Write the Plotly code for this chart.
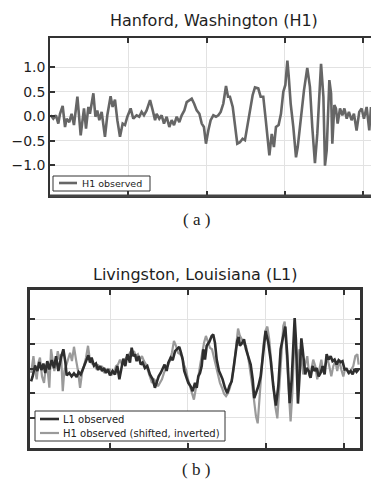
import plotly.graph_objects as go

# ---------------- data (time in s, strain in 1e-21) ----------------
H1_T = [0.2504, 0.2521, 0.2538, 0.2553, 0.2564, 0.2581, 0.2596, 0.2606, 0.2623, 0.2638,
        0.2653, 0.2675, 0.2696, 0.2709, 0.2717, 0.2730, 0.2745, 0.2755, 0.2777, 0.2790,
        0.2802, 0.2815, 0.2830, 0.2851, 0.2866, 0.2887, 0.2900, 0.2915, 0.2930, 0.2947,
        0.2964, 0.2979, 0.2994, 0.3015, 0.3032, 0.3053, 0.3070, 0.3085, 0.3100, 0.3117,
        0.3139, 0.3156, 0.3171, 0.3181, 0.3198, 0.3213, 0.3228, 0.3245, 0.3262, 0.3277,
        0.3292, 0.3309, 0.3326, 0.3341, 0.3358, 0.3373, 0.3390, 0.3405, 0.3420, 0.3437,
        0.3454, 0.3469, 0.3483, 0.3496, 0.3511, 0.3526, 0.3543, 0.3560, 0.3575, 0.3590,
        0.3607, 0.3624, 0.3637, 0.3649, 0.3667, 0.3681, 0.3696, 0.3713, 0.3730, 0.3745,
        0.3760, 0.3777, 0.3794, 0.3809, 0.3830, 0.3845, 0.3862, 0.3877, 0.3890, 0.3901,
        0.3916, 0.3930, 0.3943, 0.3960, 0.3975, 0.3990, 0.4003, 0.4016, 0.4024, 0.4037,
        0.4054, 0.4071, 0.4082, 0.4101, 0.4122, 0.4143, 0.4160, 0.4175, 0.4192, 0.4207,
        0.4220, 0.4231, 0.4246, 0.4256, 0.4267, 0.4278, 0.4284, 0.4295, 0.4303, 0.4316,
        0.4326, 0.4337, 0.4352, 0.4367, 0.4380, 0.4395, 0.4409, 0.4426, 0.4441, 0.4458,
        0.4475, 0.4490, 0.4505, 0.4522, 0.4539, 0.4550]
H1_V = [0.02, -0.05, 0.02, -0.15, 0.05, 0.21, -0.22, -0.05, -0.12, 0.05,
        -0.18, 0.40, -0.39, 0.05, 0.16, -0.25, 0.19, 0.05, 0.47, -0.01,
        0.12, -0.08, 0.09, -0.42, 0.02, 0.41, 0.19, 0.34, -0.08, -0.42,
        -0.15, -0.18, -0.01, 0.16, -0.05, 0.02, -0.01, 0.09, 0.02, 0.12,
        0.33, 0.12, -0.08, 0.05, -0.05, 0.02, -0.15, -0.01, -0.22, -0.08,
        -0.18, -0.01, -0.12, 0.02, 0.12, 0.29, 0.33, 0.36, 0.26, 0.12,
        0.05, -0.15, -0.22, -0.56, -0.29, -0.08, 0.02, -0.01, 0.02, 0.09,
        0.26, 0.62, 0.40, 0.40, 0.19, -0.22, -0.56, -0.53, -0.46, -0.49,
        -0.22, 0.12, 0.43, 0.59, 0.57, 0.40, 0.40, -0.05, -0.49, -0.80,
        -0.36, -0.63, -0.22, -0.18, 0.05, 0.50, 0.64, 1.14, 0.84, 0.26,
        -0.22, -0.84, -0.63, -0.08, 0.53, 0.99, 0.60, -0.22, -0.96, -0.36,
        0.47, 1.07, 0.40, -1.01, -0.70, 0.33, 0.74, 0.47, -0.56, 0.23,
        0.16, -0.15, 0.16, 0.02, 0.16, -0.05, 0.09, -0.08, 0.05, -0.29,
        0.09, 0.16, -0.05, 0.19, -0.29, 0.19]

L1_T = [0.2494, 0.2504, 0.2519, 0.2534, 0.2547, 0.2560, 0.2573, 0.2585, 0.2598, 0.2611,
        0.2626, 0.2641, 0.2654, 0.2669, 0.2686, 0.2701, 0.2714, 0.2722, 0.2739, 0.2754,
        0.2769, 0.2786, 0.2799, 0.2812, 0.2829, 0.2846, 0.2861, 0.2872, 0.2882, 0.2897,
        0.2910, 0.2923, 0.2936, 0.2949, 0.2962, 0.2974, 0.2987, 0.3000, 0.3017, 0.3032,
        0.3047, 0.3060, 0.3073, 0.3085, 0.3098, 0.3111, 0.3128, 0.3139, 0.3150, 0.3160,
        0.3171, 0.3184, 0.3197, 0.3209, 0.3224, 0.3239, 0.3256, 0.3274, 0.3288, 0.3299,
        0.3312, 0.3325, 0.3338, 0.3350, 0.3363, 0.3374, 0.3389, 0.3402, 0.3417, 0.3432,
        0.3444, 0.3455, 0.3466, 0.3476, 0.3487, 0.3502, 0.3517, 0.3530, 0.3545, 0.3556,
        0.3566, 0.3577, 0.3588, 0.3598, 0.3609, 0.3620, 0.3637, 0.3652, 0.3662, 0.3673,
        0.3684, 0.3699, 0.3709, 0.3722, 0.3737, 0.3752, 0.3765, 0.3780, 0.3791, 0.3803,
        0.3816, 0.3825, 0.3833, 0.3846, 0.3859, 0.3872, 0.3887, 0.3902, 0.3915, 0.3925,
        0.3936, 0.3951, 0.3966, 0.3983, 0.3998, 0.4015, 0.4030, 0.4047, 0.4064, 0.4079,
        0.4094, 0.4111, 0.4124, 0.4137, 0.4152, 0.4165, 0.4175, 0.4184, 0.4192, 0.4205,
        0.4214, 0.4227, 0.4235, 0.4244, 0.4252, 0.4261, 0.4274, 0.4286, 0.4299, 0.4312,
        0.4325, 0.4338, 0.4350, 0.4363, 0.4376, 0.4389, 0.4402, 0.4415, 0.4427, 0.4440,
        0.4453, 0.4466, 0.4479, 0.4491, 0.4504, 0.4517, 0.4530, 0.4543, 0.4556, 0.4568,
        0.4581, 0.4594]
L1_V = [-0.26, -0.16, 0.06, -0.05, 0.13, -0.03, 0.10, -0.09, 0.15, -0.02,
        0.17, 0.01, 0.25, -0.05, 0.22, 0.39, 0.12, -0.14, -0.09, -0.16,
        -0.10, -0.17, -0.07, -0.12, 0.01, 0.15, 0.27, 0.12, 0.22, 0.06,
        0.10, -0.03, 0.05, -0.05, 0.01, -0.09, -0.02, -0.14, -0.05, -0.12,
        0.05, -0.22, 0.01, 0.20, 0.05, 0.29, 0.12, 0.42, 0.25, 0.29,
        0.15, 0.25, 0.08, 0.12, 0.01, 0.05, -0.12, -0.22, -0.39, -0.29,
        -0.16, -0.09, -0.01, 0.08, -0.05, 0.12, 0.22, 0.17, 0.35, 0.39,
        0.44, 0.32, 0.18, -0.05, -0.16, -0.29, -0.36, -0.46, -0.29, -0.39,
        -0.16, -0.09, 0.05, 0.39, 0.18, 0.46, 0.54, 0.66, 0.69, 0.52,
        0.18, -0.05, -0.12, -0.22, -0.39, -0.50, -0.36, -0.26, -0.02, 0.25,
        0.56, 0.64, 0.46, 0.51, 0.59, 0.39, 0.25, 0.08, -0.22, -0.60,
        -0.50, -0.36, -0.16, 0.32, 0.76, 0.52, 0.18, -0.36, -0.75, -0.36,
        0.39, 0.66, 0.85, 0.25, -0.70, -0.22, 0.39, 1.02, 0.59, -0.71,
        -0.22, 0.61, 0.39, 0.05, -0.12, 0.01, -0.05, -0.19, 0.05, -0.05,
        0.01, -0.16, -0.09, 0.05, -0.12, 0.29, 0.18, 0.25, 0.15, 0.18,
        0.08, 0.17, 0.13, 0.15, -0.02, -0.01, -0.09, -0.05, -0.12, -0.01,
        -0.07, -0.02]

H1S_T = [0.2494, 0.2509, 0.2519, 0.2530, 0.2541, 0.2551, 0.2564, 0.2577, 0.2590, 0.2600,
         0.2611, 0.2622, 0.2632, 0.2643, 0.2654, 0.2665, 0.2675, 0.2686, 0.2697, 0.2707,
         0.2718, 0.2731, 0.2744, 0.2756, 0.2769, 0.2782, 0.2795, 0.2808, 0.2821, 0.2833,
         0.2846, 0.2859, 0.2872, 0.2885, 0.2897, 0.2910, 0.2923, 0.2936, 0.2949, 0.2962,
         0.2974, 0.2987, 0.3000, 0.3013, 0.3026, 0.3038, 0.3051, 0.3064, 0.3077, 0.3090,
         0.3103, 0.3118, 0.3128, 0.3141, 0.3154, 0.3167, 0.3179, 0.3192, 0.3205, 0.3218,
         0.3231, 0.3244, 0.3256, 0.3269, 0.3282, 0.3295, 0.3308, 0.3321, 0.3333, 0.3346,
         0.3359, 0.3372, 0.3385, 0.3397, 0.3410, 0.3423, 0.3436, 0.3449, 0.3462, 0.3474,
         0.3487, 0.3500, 0.3513, 0.3526, 0.3538, 0.3551, 0.3564, 0.3577, 0.3590, 0.3603,
         0.3615, 0.3628, 0.3641, 0.3654, 0.3667, 0.3680, 0.3692, 0.3705, 0.3718, 0.3731,
         0.3744, 0.3756, 0.3769, 0.3782, 0.3795, 0.3808, 0.3821, 0.3833, 0.3846, 0.3859,
         0.3872, 0.3885, 0.3897, 0.3910, 0.3923, 0.3936, 0.3947, 0.3957, 0.3970, 0.3983,
         0.3996, 0.4009, 0.4021, 0.4034, 0.4047, 0.4060, 0.4073, 0.4085, 0.4098, 0.4111,
         0.4120, 0.4132, 0.4145, 0.4158, 0.4169, 0.4180, 0.4188, 0.4197, 0.4205, 0.4214,
         0.4227, 0.4239, 0.4252, 0.4265, 0.4278, 0.4291, 0.4303, 0.4316, 0.4329, 0.4342,
         0.4355, 0.4368, 0.4380, 0.4393, 0.4406, 0.4419, 0.4432, 0.4445, 0.4457, 0.4470,
         0.4483, 0.4496, 0.4509, 0.4521, 0.4534, 0.4547, 0.4560, 0.4573, 0.4586, 0.4594]
H1S_V = [-0.09, 0.25, -0.02, -0.22, 0.12, 0.22, -0.16, -0.29, 0.08, -0.02,
         -0.39, 0.39, 0.18, -0.05, 0.12, 0.35, 0.18, 0.29, -0.46, -0.05,
         0.05, 0.18, 0.32, 0.15, 0.44, 0.18, -0.05, -0.39, -0.09, 0.05,
         0.22, 0.46, 0.15, 0.10, 0.08, 0.01, 0.08, -0.02, 0.05, -0.09,
         -0.03, -0.01, -0.02, -0.12, -0.09, 0.05, 0.08, 0.18, 0.08, 0.12,
         0.22, 0.25, 0.32, 0.29, 0.35, 0.25, 0.29, 0.18, 0.25, 0.15,
         0.08, -0.05, -0.19, -0.29, -0.22, -0.26, -0.36, -0.29, -0.22, -0.09,
         0.01, 0.06, 0.17, 0.32, 0.56, 0.46, 0.32, 0.29, 0.25, 0.08,
         -0.02, -0.22, -0.36, -0.50, -0.63, -0.39, -0.22, 0.05, 0.32, 0.52,
         0.66, 0.52, 0.42, 0.39, 0.22, 0.01, -0.16, -0.29, -0.39, -0.51,
         -0.56, -0.50, -0.39, -0.22, 0.05, 0.39, 0.81, 0.66, 0.59, 0.49,
         0.46, 0.25, 0.01, -0.29, -0.63, -0.97, -1.11, -0.63, -0.09, 0.46,
         0.76, 0.85, 0.59, 0.12, -0.36, -0.77, -1.01, -0.43, 0.32, 0.86,
         0.95, 0.32, -0.56, -1.07, -0.50, 0.39, 0.59, 0.32, -0.09, 0.39,
         0.18, -0.12, 0.08, 0.25, -0.16, -0.02, 0.18, 0.05, -0.22, 0.01,
         0.18, -0.09, 0.08, 0.22, 0.05, -0.16, 0.05, 0.15, -0.05, 0.18,
         -0.02, -0.16, 0.01, -0.05, -0.09, -0.02, 0.05, 0.25, 0.29, 0.08]

X_TICKS = [0.30, 0.35, 0.40, 0.45]
Y_TICKS = [1.0, 0.5, 0.0, -0.5, -1.0]
Y_TICK_TEXT = ["1.0", "0.5", "0.0", "\u22120.5", "\u22121.0"]

TITLE_TOP = "Hanford, Washington (H1)"
TITLE_BOTTOM = "Livingston, Louisiana (L1)"
CAPTION_A = "( a )"
CAPTION_B = "( b )"
LEG_H1 = "H1 observed"
LEG_L1 = "L1 observed"
LEG_H1S = "H1 observed (shifted, inverted)"

# ---------------- layout geometry ----------------
W, H = 371, 479
def px(x):
    return x / W
def py(y):
    return 1 - y / H

FONT = "DejaVu Sans"
SERIF = "Liberation Serif"
DARK = "#333333"
GRID = "#e2e2e2"

fig = go.Figure()
fig.add_trace(go.Scatter(x=H1_T, y=H1_V, mode="lines", name=LEG_H1,
                         line=dict(color="#666666", width=2.6), xaxis="x", yaxis="y"))
fig.add_trace(go.Scatter(x=H1S_T, y=H1S_V, mode="lines", name=LEG_H1S,
                         line=dict(color="#9a9a9a", width=2.2), xaxis="x2", yaxis="y2"))
fig.add_trace(go.Scatter(x=L1_T, y=L1_V, mode="lines", name=LEG_L1,
                         line=dict(color="#2e2e2e", width=2.6), xaxis="x2", yaxis="y2"))

common_x = dict(tickvals=X_TICKS, showticklabels=False, ticks="inside", ticklen=5,
                tickwidth=1.5, tickcolor=DARK, showgrid=True, gridcolor=GRID, gridwidth=1,
                zeroline=False, showline=True, linecolor=DARK, mirror="ticks")
common_y = dict(tickvals=Y_TICKS, ticks="inside", ticklen=5, tickwidth=1.5, tickcolor=DARK,
                showgrid=True, gridcolor=GRID, gridwidth=1, zeroline=False,
                showline=True, linecolor=DARK)

fig.update_layout(
    width=W, height=H,
    margin=dict(l=0, r=0, t=0, b=0, pad=0),
    paper_bgcolor="white", plot_bgcolor="white",
    showlegend=False,
    xaxis=dict(domain=[px(50), 1.0], range=[0.25, 0.455], anchor="y", linewidth=1.5, **common_x),
    yaxis=dict(domain=[py(196), py(38)], range=[-1.63, 1.6], anchor="x",
               ticktext=Y_TICK_TEXT, showticklabels=True, mirror=False, linewidth=1.5,
               tickfont=dict(family=FONT, size=14, color="#1e1e1e"), **common_y),
    xaxis2=dict(domain=[px(30), px(360)], range=[0.2487, 0.4603], anchor="y2",
                linewidth=2.5, **common_x),
    yaxis2=dict(domain=[py(448), py(290)], range=[-1.61, 1.59], anchor="x2",
                showticklabels=False, mirror="ticks", linewidth=2.5, **common_y),
)

shapes = []
# thicker bottom spine of upper panel
shapes.append(dict(type="line", xref="paper", yref="paper", x0=px(50), x1=1.0,
                   y0=py(196), y1=py(196), line=dict(color="#444444", width=3)))
# legend boxes
shapes.append(dict(type="rect", xref="paper", yref="paper", x0=px(53), x1=px(150),
                   y0=py(191), y1=py(176), line=dict(color=DARK, width=1), fillcolor="white"))
shapes.append(dict(type="line", xref="paper", yref="paper", x0=px(59), x1=px(77),
                   y0=py(183), y1=py(183), line=dict(color="#666666", width=2.6)))
shapes.append(dict(type="rect", xref="paper", yref="paper", x0=px(35), x1=px(225),
                   y0=py(441), y1=py(411), line=dict(color=DARK, width=1), fillcolor="white"))
shapes.append(dict(type="line", xref="paper", yref="paper", x0=px(40), x1=px(59),
                   y0=py(419), y1=py(419), line=dict(color="#2e2e2e", width=2.6)))
shapes.append(dict(type="line", xref="paper", yref="paper", x0=px(40), x1=px(59),
                   y0=py(433), y1=py(433), line=dict(color="#9a9a9a", width=2.2)))
fig.update_layout(shapes=shapes)

ann = []
ann.append(dict(text=TITLE_TOP, x=px(214), y=py(21), xref="paper", yref="paper",
                showarrow=False, xanchor="center", yanchor="middle",
                font=dict(family=FONT, size=16, color="#1e1e1e")))
ann.append(dict(text=TITLE_BOTTOM, x=px(195), y=py(274), xref="paper", yref="paper",
                showarrow=False, xanchor="center", yanchor="middle",
                font=dict(family=FONT, size=16, color="#1e1e1e")))
ann.append(dict(text=CAPTION_A, x=px(196), y=py(219), xref="paper", yref="paper",
                showarrow=False, xanchor="center", yanchor="middle",
                font=dict(family=SERIF, size=17, color="#222222")))
ann.append(dict(text=CAPTION_B, x=px(196), y=py(469), xref="paper", yref="paper",
                showarrow=False, xanchor="center", yanchor="middle",
                font=dict(family=SERIF, size=17, color="#222222")))
ann.append(dict(text=LEG_H1, x=px(80), y=py(183), xref="paper", yref="paper",
                showarrow=False, xanchor="left", yanchor="middle",
                font=dict(family=FONT, size=9.5, color="#222222")))
ann.append(dict(text=LEG_L1, x=px(61), y=py(419), xref="paper", yref="paper",
                showarrow=False, xanchor="left", yanchor="middle",
                font=dict(family=FONT, size=10, color="#222222")))
ann.append(dict(text=LEG_H1S, x=px(61), y=py(433), xref="paper", yref="paper",
                showarrow=False, xanchor="left", yanchor="middle",
                font=dict(family=FONT, size=10, color="#222222")))
fig.update_layout(annotations=ann)

fig.write_html("out.html",
               config={"displayModeBar": False},
               post_script="document.body.style.margin='0';document.body.style.overflow='hidden';")
